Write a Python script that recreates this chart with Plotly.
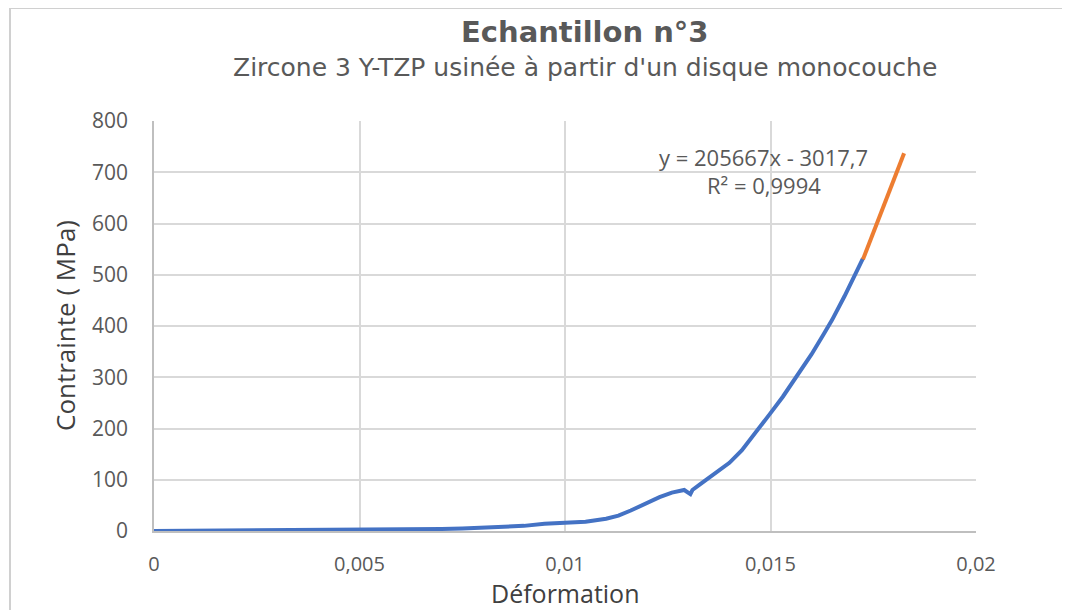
import plotly.graph_objects as go

# courbe contrainte / déformation
deformation = [0, 0.001, 0.002, 0.003, 0.004, 0.005, 0.0058, 0.0062, 0.007, 0.0075,
               0.008, 0.0085, 0.009, 0.0095, 0.01, 0.0105, 0.011, 0.0113, 0.0116,
               0.012, 0.0123, 0.0126, 0.0128, 0.0129, 0.01305, 0.0131, 0.0133, 0.0135,
               0.0138, 0.014, 0.0143, 0.0145, 0.0148, 0.015, 0.0153, 0.0155, 0.0158,
               0.016, 0.0163, 0.0165, 0.0168, 0.017, 0.01725]
contrainte = [0, 0.5, 0.8, 1, 1.2, 1.5, 2, 3, 4, 5, 7, 8, 10, 14, 16, 18, 24, 30, 40,
              55, 66, 75, 79, 80, 72, 80, 92, 104, 120, 133, 157, 177, 208, 230, 262,
              285, 320, 345, 385, 412, 458, 492, 532]

# zone linéaire (série orange)
def_lin = [0.01725, 0.0175, 0.0178, 0.018, 0.01825]
cont_lin = [530, 582, 643, 685, 737]

equation = "y = 205667x - 3017,7"
r2 = "R² = 0,9994"

x_ticks = [0, 0.005, 0.01, 0.015, 0.02]
x_labels = ["0", "0,005", "0,01", "0,015", "0,02"]
y_ticks = [0, 100, 200, 300, 400, 500, 600, 700, 800]

txt = "#595959"
grid = "#D9D9D9"

fig = go.Figure()
fig.add_trace(go.Scatter(x=deformation, y=contrainte, mode="lines",
                         line=dict(color="#4472C4", width=4), showlegend=False))
fig.add_trace(go.Scatter(x=def_lin, y=cont_lin, mode="lines",
                         line=dict(color="#ED7D31", width=4), showlegend=False))

# la page html ajoute 8px de marge au body -> on compense
fig.update_layout(
    width=1070, height=610,
    margin=dict(l=146, r=102, t=113, b=87),
    paper_bgcolor="white", plot_bgcolor="white",
    font=dict(family="Open Sans", color=txt),
)
fig.update_xaxes(range=[0, 0.02], tickvals=x_ticks, ticktext=x_labels,
                 showgrid=True, gridcolor=grid, gridwidth=1.5,
                 showline=True, linecolor="#BFBFBF", linewidth=1.5,
                 zeroline=False, ticks="", ticklabelstandoff=14,
                 tickfont=dict(size=20, family="Open Sans", color=txt))
fig.update_yaxes(range=[0, 800], tickvals=y_ticks,
                 showgrid=True, gridcolor=grid, gridwidth=1.5,
                 showline=True, linecolor="#BFBFBF", linewidth=1.5,
                 zeroline=False, ticks="", ticklabelstandoff=20,
                 tickfont=dict(size=21, family="Open Sans", color=txt))


def px_x(p):
    return (p - 154) / 822


def px_y(p):
    return (531 - p) / 410


def texte(t, x, y, size, family="Open Sans", color=txt, angle=0):
    fig.add_annotation(text=t, xref="paper", yref="paper", x=px_x(x), y=px_y(y),
                       xanchor="center", yanchor="middle", showarrow=False,
                       textangle=angle, font=dict(size=size, family=family, color=color))


# titres
texte("<b>Echantillon n°3</b>", 585, 32, 29, "DejaVu Sans")
texte("Zircone 3 Y-TZP usinée à partir d'un disque monocouche", 585, 67, 25, "DejaVu Sans")

# titres des axes
texte("Déformation", 565, 593, 25, color="#404040")
texte("Contrainte ( MPa)", 65, 326, 26, color="#404040", angle=-90)

# équation de la courbe de tendance
texte(equation, 763, 157, 22)
texte(r2, 764, 185, 22)

# cadre de la zone de graphique
fig.add_shape(type="rect", xref="paper", yref="paper",
              x0=px_x(10), x1=px_x(1064), y0=px_y(640), y1=px_y(8),
              line=dict(color="#D0D0D0", width=2), layer="below")

fig.write_html("out.html")
